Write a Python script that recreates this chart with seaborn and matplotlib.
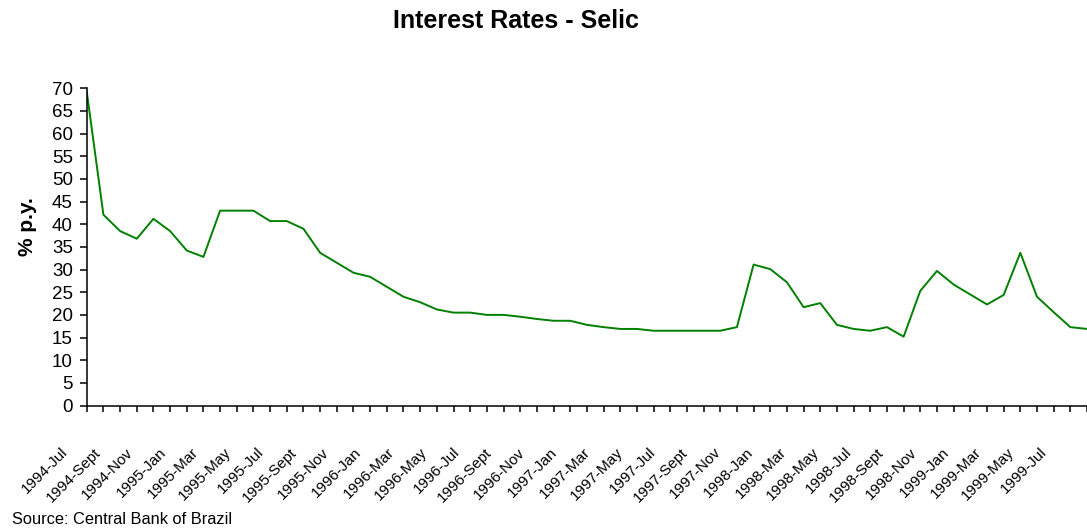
import matplotlib
matplotlib.use("Agg")
import matplotlib.pyplot as plt
import matplotlib.transforms as mtransforms
import numpy as np
import pandas as pd
import seaborn as sns

# Monthly Selic rate, % per year, July 1994 to July 1999
years = [1994] * 6 + [1995] * 12 + [1996] * 12 + [1997] * 12 + [1998] * 12 + [1999] * 7
months = (["Jul", "Aug", "Sept", "Oct", "Nov", "Dec"]
          + ["Jan", "Feb", "Mar", "Apr", "May", "Jun", "Jul", "Aug", "Sept", "Oct", "Nov", "Dec"] * 4
          + ["Jan", "Feb", "Mar", "Apr", "May", "Jun", "Jul"])
selic = [
    69.3, 42.1, 38.5, 36.8, 41.2, 38.5,
    34.2, 32.8, 43.0, 43.0, 43.0, 40.7, 40.7, 39.0, 33.7, 31.5, 29.3, 28.4,
    26.2, 24.0, 22.8, 21.2, 20.5, 20.5, 20.0, 20.0, 19.6, 19.1, 18.7, 18.7,
    17.8, 17.3, 16.9, 16.9, 16.5, 16.5, 16.5, 16.5, 16.5, 17.3, 31.1, 30.1,
    27.2, 21.7, 22.6, 17.8, 16.9, 16.5, 17.3, 15.2, 25.3, 29.7, 26.7, 24.5,
    22.3, 24.4, 33.7, 24.0, 20.6, 17.3, 16.9,
]
y_ticks = list(range(0, 75, 5))

labels = [f"{y}-{m}" for y, m in zip(years, months)]
df = pd.DataFrame({"idx": np.arange(len(selic)), "label": labels, "rate": selic})

sns.set_style("ticks")
plt.rcParams["font.family"] = ["Liberation Sans", "DejaVu Sans"]
plt.rcParams["text.color"] = "black"
plt.rcParams["axes.labelcolor"] = "black"

fig = plt.figure(figsize=(10.87, 5.31), dpi=100)
ax = fig.add_axes([0.0798, 0.2363, 0.9202, 0.5974])

sns.lineplot(data=df, x="idx", y="rate", ax=ax, color="#008000", linewidth=1.4)

ax.set_xlim(0, 59.72)
ax.set_ylim(0, 70)
ax.set_yticks(y_ticks)
ax.set_yticklabels([str(v) for v in y_ticks], fontsize=13.5)

ax.set_xticks(df["idx"])
ax.set_xticklabels([lab if i % 2 == 0 else "" for i, lab in enumerate(labels)],
                   fontsize=11, rotation=45, ha="right", va="top",
                   rotation_mode="anchor")

ax.tick_params(axis="y", direction="out", length=5, width=1.1, pad=5, colors="black")
ax.tick_params(axis="x", direction="out", length=4.5, width=1.1, pad=24, colors="black")

# shift the slanted month labels to the left of their ticks, a little more
# towards the right end of the axis
for i, t in enumerate(ax.get_xticklabels()):
    dx_px = -26 - 0.35 * i
    shift = mtransforms.ScaledTranslation(dx_px / 100, 0, fig.dpi_scale_trans)
    t.set_transform(t.get_transform() + shift)

ax.set_xlabel("")
ax.set_ylabel("")
for side in ["top", "right"]:
    ax.spines[side].set_visible(False)
for side in ["left", "bottom"]:
    ax.spines[side].set_linewidth(1.1)
    ax.spines[side].set_color("black")

fig.text(0.475, 0.9605, "Interest Rates - Selic", ha="center", va="center",
         fontsize=18, fontweight="bold")
fig.text(0.025, 0.574, "% p.y.", ha="center", va="center", rotation=90,
         fontsize=15, fontweight="bold")
fig.text(0.011, 0.021, "Source: Central Bank of Brazil", ha="left", va="center",
         fontsize=11.8)

fig.savefig("out.png", dpi=100)
